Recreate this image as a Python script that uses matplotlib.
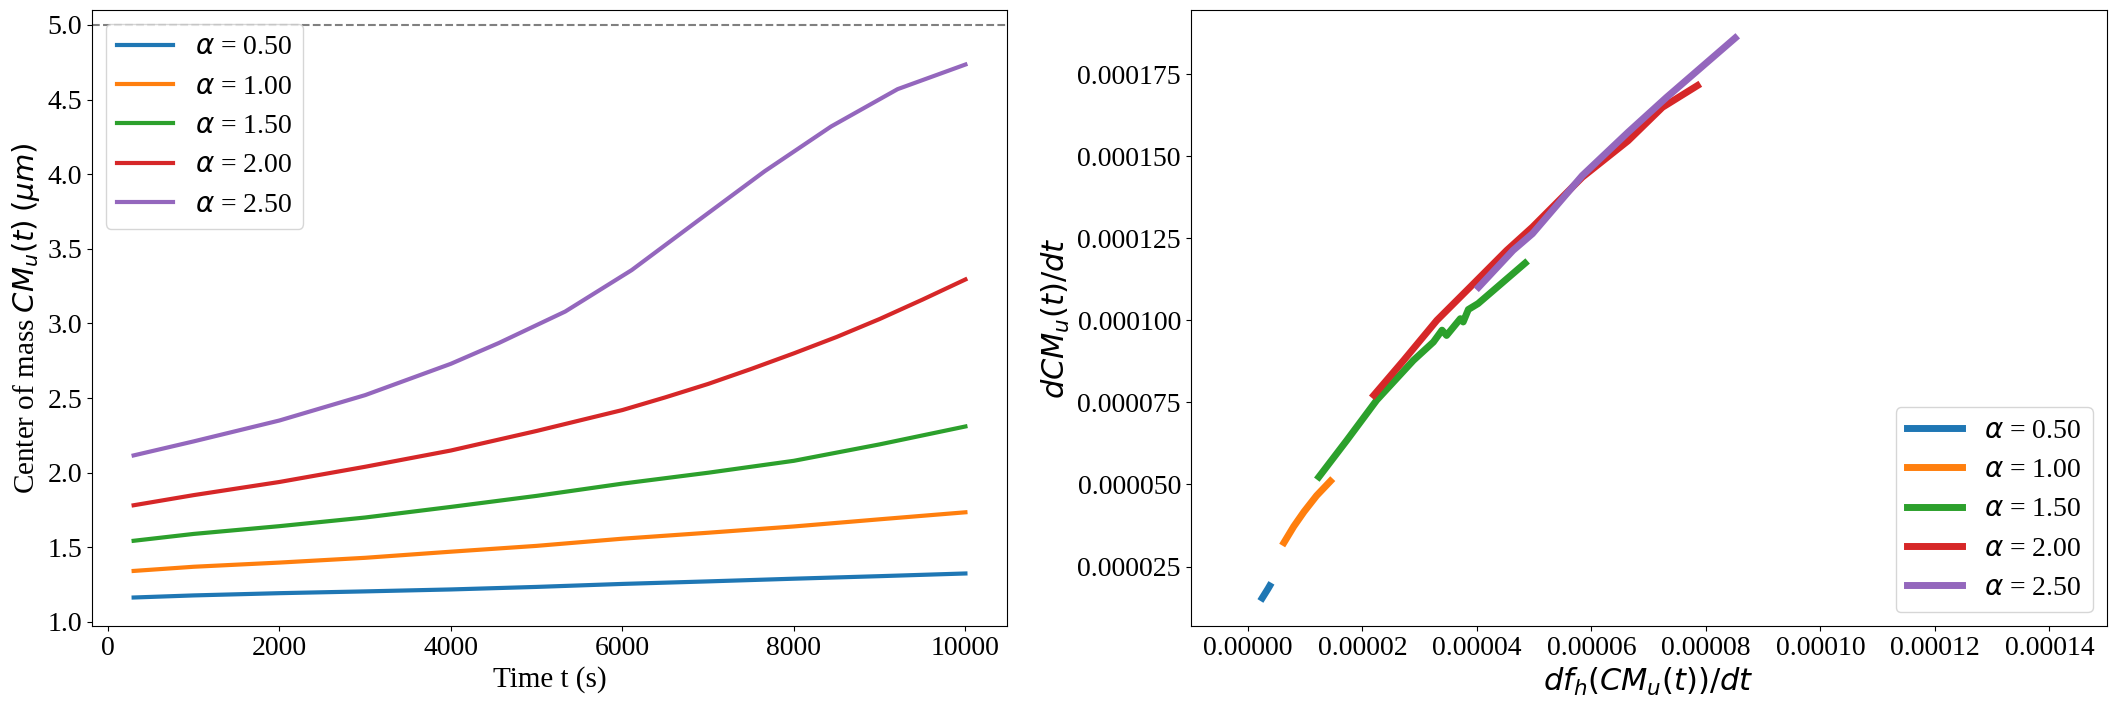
import numpy as np
import matplotlib
matplotlib.use('Agg')
import matplotlib.pyplot as plt

plt.rcParams['font.family'] = 'serif'
plt.rcParams['font.serif'] = ['Liberation Serif', 'DejaVu Serif']
plt.rcParams['mathtext.fontset'] = 'dejavusans'

alphas = [0.5, 1.0, 1.5, 2.0, 2.5]
colors = ['#1f77b4', '#ff7f0e', '#2ca02c', '#d62728', '#9467bd']

# left panel: centre of mass vs time
time_s = [300, 1000, 2000, 3000, 4000, 5000, 6000, 7000, 8000, 9000, 10000]
cm_a050 = [1.164, 1.178, 1.193, 1.205, 1.218, 1.235, 1.255, 1.272, 1.290, 1.307, 1.325]
cm_a100 = [1.342, 1.370, 1.398, 1.430, 1.471, 1.510, 1.558, 1.598, 1.640, 1.688, 1.735]
cm_a150 = [1.544, 1.590, 1.642, 1.700, 1.771, 1.845, 1.927, 2.000, 2.080, 2.190, 2.310]
time_a200 = [300, 1000, 2000, 3000, 4000, 5000, 6000, 6500, 7000, 7500, 8000, 8500, 9000, 9500, 10000]
cm_a200 = [1.782, 1.850, 1.938, 2.040, 2.149, 2.280, 2.420, 2.505, 2.595, 2.695, 2.800, 2.910, 3.030, 3.160, 3.295]
time_a250 = [300, 1000, 2000, 3000, 4000, 4558, 5333, 6109, 6884, 7659, 8434, 9209, 10000]
cm_a250 = [2.116, 2.210, 2.350, 2.520, 2.730, 2.869, 3.080, 3.358, 3.690, 4.020, 4.320, 4.570, 4.735]
times_all = [time_s, time_s, time_s, time_a200, time_a250]
cm_all = [cm_a050, cm_a100, cm_a150, cm_a200, cm_a250]
cm_limit = 5.0

# right panel: dCM/dt vs df_h/dt
dfh_a050 = [2.5e-6, 3.0e-6, 3.5e-6, 3.8e-6]
dcm_a050 = [1.54e-5, 1.68e-5, 1.82e-5, 1.91e-5]
dfh_a100 = [6.3e-6, 8.0e-6, 9.8e-6, 1.2e-5, 1.44e-5]
dcm_a100 = [3.23e-5, 3.72e-5, 4.17e-5, 4.66e-5, 5.10e-5]
dfh_a150 = [1.24e-5, 1.73e-5, 2.25e-5, 2.89e-5, 3.24e-5, 3.39e-5, 3.47e-5,
            3.71e-5, 3.76e-5, 3.85e-5, 4.02e-5, 4.46e-5, 4.84e-5]
dcm_a150 = [5.23e-5, 6.35e-5, 7.57e-5, 8.78e-5, 9.34e-5, 9.70e-5, 9.54e-5,
            1.005e-4, 9.95e-5, 1.033e-4, 1.051e-4, 1.117e-4, 1.174e-4]
dfh_a200 = [2.2e-5, 2.72e-5, 3.3e-5, 3.88e-5, 4.52e-5, 4.97e-5, 5.84e-5, 6.64e-5, 7.24e-5, 7.85e-5]
dcm_a200 = [7.72e-5, 8.78e-5, 1.0e-4, 1.101e-4, 1.213e-4, 1.284e-4, 1.436e-4, 1.547e-4, 1.649e-4, 1.715e-4]
dfh_a250 = [4.03e-5, 4.63e-5, 4.97e-5, 5.84e-5, 6.64e-5, 7.31e-5, 8.51e-5]
dcm_a250 = [1.101e-4, 1.213e-4, 1.264e-4, 1.441e-4, 1.573e-4, 1.679e-4, 1.86e-4]
dfh_all = [dfh_a050, dfh_a100, dfh_a150, dfh_a200, dfh_a250]
dcm_all = [dcm_a050, dcm_a100, dcm_a150, dcm_a200, dcm_a250]

fig = plt.figure(figsize=(21.16, 7.08), dpi=100)
ax1 = fig.add_axes([0.0435, 0.1158, 0.4324, 0.870])
ax2 = fig.add_axes([0.5627, 0.1158, 0.4329, 0.870])

for a, c, t, cm in zip(alphas, colors, times_all, cm_all):
    ax1.plot(t, cm, color=c, lw=3, label=r'$\alpha$ = %.2f' % a)
ax1.axhline(cm_limit, color='gray', ls='--', lw=1.5)
ax1.set_ylim(0.973, 5.1)
ax1.set_xlabel('Time t (s)', fontsize=21)
ax1.set_ylabel(r'Center of mass $CM_u(t)$ $(\mu m)$', fontsize=21)
ax1.tick_params(labelsize=20)
ax1.legend(loc='upper left', fontsize=20)

for a, c, x, y in zip(alphas, colors, dfh_all, dcm_all):
    ax2.plot(x, y, color=c, lw=5, label=r'$\alpha$ = %.2f' % a)
ax2.set_xlim(-1e-5, 1.5e-4)
ax2.ticklabel_format(style='plain', useOffset=False)
ax2.set_xlabel(r'$df_h(CM_u(t))/dt$', fontsize=22)
ax2.set_ylabel(r'$dCM_u(t)/dt$', fontsize=22)
ax2.tick_params(labelsize=20)
ax2.legend(loc='lower right', fontsize=20)

fig.savefig('out.png', dpi=100)
